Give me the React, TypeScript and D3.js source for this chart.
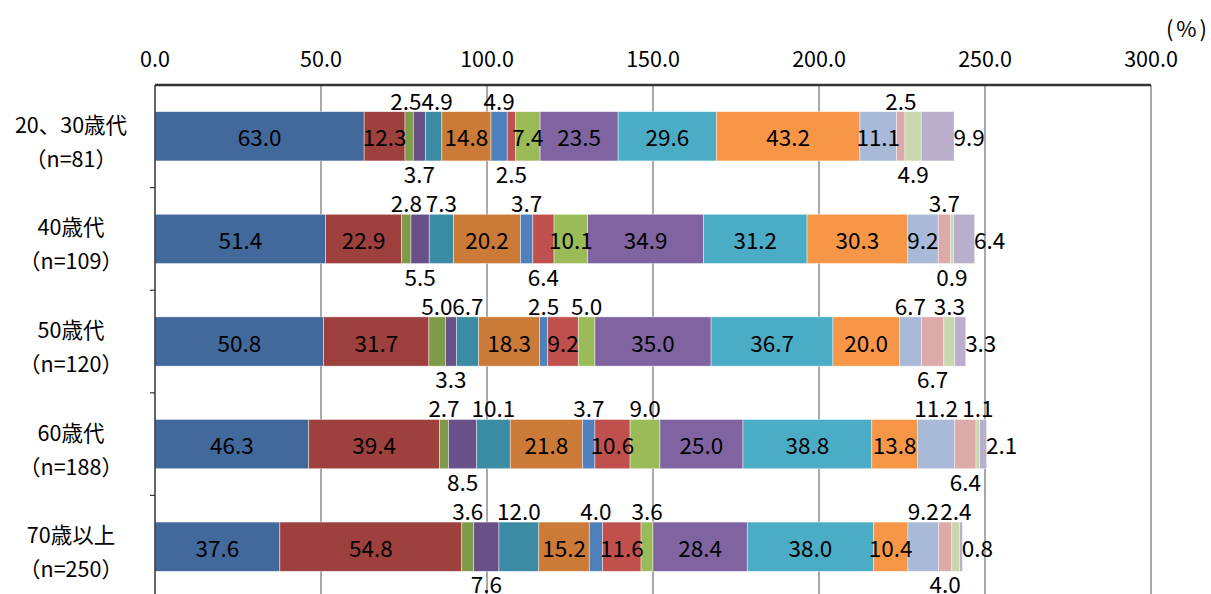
import React from "react";
import * as d3 from "d3";

// ---- data ----
const categories = ["20、30歳代", "40歳代", "50歳代", "60歳代", "70歳以上"];
const sampleSizes = ["（n=81）", "（n=109）", "（n=120）", "（n=188）", "（n=250）"];

const age20s30s = [63.0, 12.3, 2.5, 3.7, 4.9, 14.8, 4.9, 2.5, 7.4, 23.5, 29.6, 43.2, 11.1, 2.5, 4.9, 9.9];
const age40s = [51.4, 22.9, 2.8, 5.5, 7.3, 20.2, 3.7, 6.4, 10.1, 34.9, 31.2, 30.3, 9.2, 3.7, 0.9, 6.4];
const age50s = [50.8, 31.7, 5.0, 3.3, 6.7, 18.3, 2.5, 9.2, 5.0, 35.0, 36.7, 20.0, 6.7, 6.7, 3.3, 3.3];
const age60s = [46.3, 39.4, 2.7, 8.5, 10.1, 21.8, 3.7, 10.6, 9.0, 25.0, 38.8, 13.8, 11.2, 6.4, 1.1, 2.1];
const age70plus = [37.6, 54.8, 3.6, 7.6, 12.0, 15.2, 4.0, 11.6, 3.6, 28.4, 38.0, 10.4, 9.2, 4.0, 2.4, 0.8];

const rows = [age20s30s, age40s, age50s, age60s, age70plus];

const xTicks = [0, 50, 100, 150, 200, 250, 300];

// label placement codes (in = inside, up = above bar, dn = below bar, end = after bar)
const placeA = ["in", "in", "up", "dn", "up", "in", "up", "dn", "in", "in", "in", "in", "in", "up", "dn", "end"];
const placeB = ["in", "in", "up", "dn", "up", "in", "up", "in", "up", "in", "in", "in", "up", "dn", "up", "end"];
const placements = [placeA, placeA, placeB, placeB, placeB];

const colors = [
  "#41699b", "#9e403e", "#7f9a48", "#6a5089", "#3a8ba3", "#cc7a37",
  "#4f81bd", "#c0504d", "#9bbb59", "#8064a2", "#4bacc6", "#f79646",
  "#a9b9d8", "#dbaaa9", "#c9d7ae", "#b9aecb",
];

const W = 1211;
const H = 594;
const left = 155;
const right = 1151;
const top = 85;
const step = 102.6;
const labelSize = 22.5;

function textWidth(s: string) {
  let w = 0;
  for (const ch of s) w += ch === "." ? 0.28 : 0.553;
  return w * labelSize;
}

type Lab = { x: number; y: number; text: string; p: string; w: number };

export default function App() {
  const x = d3.scaleLinear().domain([0, 300]).range([left, right]);
  const y = d3
    .scaleBand<string>()
    .domain(categories)
    .range([top, top + step * categories.length])
    .paddingInner(0.52)
    .paddingOuter(0.26);
  const bh = y.bandwidth();
  const font = "'Noto Sans CJK JP', 'Noto Sans', sans-serif";

  const labelRows: Lab[][] = rows.map((vals, ri) => {
    const y0 = y(categories[ri])!;
    const cum = d3.cumsum(vals);
    const labs: Lab[] = vals.map((v, si) => {
      const start = si === 0 ? 0 : cum[si - 1];
      const p = placements[ri][si];
      let lx = (x(start) + x(start + v)) / 2;
      let ly = y0 + bh / 2;
      if (p === "up") ly = y0 - 12;
      if (p === "dn") ly = y0 + bh + 12;
      if (p === "end") lx = x(start + v) + 15;
      const text = v.toFixed(1);
      return { x: lx, y: ly, text, p, w: textWidth(text) };
    });
    // resolve overlaps among outside labels on the same side
    for (const side of ["up", "dn"]) {
      const group = labs.filter((l) => l.p === side).sort((a, b) => a.x - b.x);
      for (let it = 0; it < 5; it++) {
        for (let i = 1; i < group.length; i++) {
          const a = group[i - 1];
          const b = group[i];
          const overlap = a.x + a.w / 2 - (b.x - b.w / 2);
          if (overlap > 0) {
            a.x -= overlap / 2;
            b.x += overlap / 2;
          }
        }
      }
    }
    return labs;
  });

  return (
    <div style={{ position: "absolute", left: 0, top: 0 }}>
      <svg width={W} height={H} style={{ display: "block", background: "#fff" }}>
        {/* gridlines */}
        {xTicks.slice(1).map((t) => (
          <line key={"g" + t} x1={x(t)} x2={x(t)} y1={top} y2={H} stroke="#8c8c8c" strokeWidth={1.5} />
        ))}
        {/* bars */}
        {rows.map((vals, ri) => {
          const y0 = y(categories[ri])!;
          const cum = d3.cumsum(vals);
          return (
            <g key={"r" + ri}>
              {vals.map((v, si) => {
                const start = si === 0 ? 0 : cum[si - 1];
                return (
                  <rect
                    key={si}
                    x={x(start)}
                    y={y0}
                    width={x(start + v) - x(start)}
                    height={bh}
                    fill={colors[si]}
                    stroke="#ffffff"
                    strokeOpacity={0.6}
                    strokeWidth={0.7}
                  />
                );
              })}
            </g>
          );
        })}
        {/* value labels */}
        {labelRows.map((labs, ri) => (
          <g key={"l" + ri} fontFamily={font} fontSize={labelSize} fill="#000" textAnchor="middle">
            {labs.map((l, si) => (
              <text key={si} x={l.x} y={l.y} dominantBaseline="central">
                {l.text}
              </text>
            ))}
          </g>
        ))}
        {/* left axis */}
        <line x1={left} x2={left} y1={top} y2={H} stroke="#333" strokeWidth={1.5} />
        {categories.map((c, i) =>
          i === 0 ? null : (
            <line key={"t" + i} x1={left - 5} x2={left} y1={y(c)! - (step * 0.52) / 2} y2={y(c)! - (step * 0.52) / 2} stroke="#333" strokeWidth={1.2} />
          )
        )}
        {/* top axis */}
        <line x1={left} x2={right} y1={top} y2={top} stroke="#333" strokeWidth={2.5} />
        {xTicks.map((t) => (
          <text key={"x" + t} x={x(t)} y={57} textAnchor="middle" dominantBaseline="central" fontFamily={font} fontSize={21.5} fill="#000">
            {t.toFixed(1)}
          </text>
        ))}
        <text x={1188} y={27} textAnchor="middle" dominantBaseline="central" fontFamily={font} fontSize={22} letterSpacing={3} fill="#000">
          (%)
        </text>
        {/* category labels */}
        {categories.map((c, i) => {
          const cy = y(c)! + bh / 2;
          return (
            <g key={"c" + i} fontFamily={font} fontSize={21.5} fill="#000" textAnchor="middle">
              <text x={71} y={cy - 13} dominantBaseline="central">{c}</text>
              <text x={71} y={cy + 21} dominantBaseline="central">{sampleSizes[i]}</text>
            </g>
          );
        })}
      </svg>
    </div>
  );
}
